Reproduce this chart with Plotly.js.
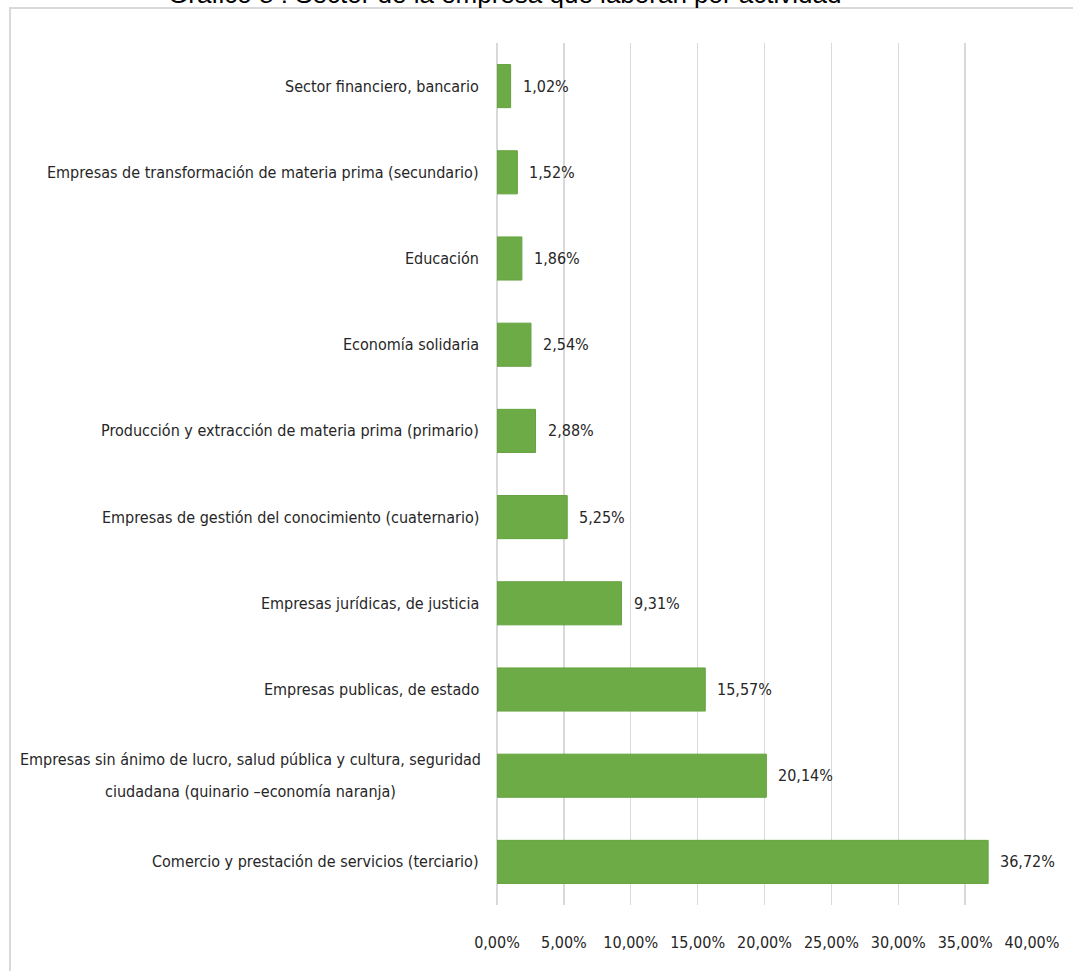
<!DOCTYPE html>
<html>
<head>
<meta charset="utf-8">
<script src="https://cdn.plot.ly/plotly-3.0.1.min.js"></script>
<style>
  html, body { margin: 0; padding: 0; background: #ffffff; }
  #chart { width: 1073px; height: 971px; }
</style>
</head>
<body>
<div id="chart"></div>
<script>
// ---- data ----
const categories = [
  "Sector financiero, bancario",
  "Empresas de transformación de materia prima (secundario)",
  "Educación",
  "Economía solidaria",
  "Producción y extracción de materia prima (primario)",
  "Empresas de gestión del conocimiento (cuaternario)",
  "Empresas jurídicas, de justicia",
  "Empresas publicas, de estado",
  "Empresas sin ánimo de lucro, salud pública y cultura, seguridad<br>ciudadana (quinario –economía naranja)",
  "Comercio y prestación de servicios (terciario)"
];
const values = [1.02, 1.52, 1.86, 2.54, 2.88, 5.25, 9.31, 15.57, 20.14, 36.72];
const tickValues = [0, 5, 10, 15, 20, 25, 30, 35, 40];
const tickLabels = ["0,00%", "5,00%", "10,00%", "15,00%", "20,00%", "25,00%", "30,00%", "35,00%", "40,00%"];
const titleText = "Gráfico 8 : Sector de la empresa que laboran por actividad";

// ---- styling ----
const FONT = '"DejaVu Sans Condensed", "Liberation Sans", sans-serif';
const TXT = '#262626';
const FS = 16;
const LINE_GAP = 32;
const fmt = v => v.toFixed(2).replace('.', ',') + '%';

const canvas = document.createElement('canvas');
const ctx = canvas.getContext('2d');
ctx.font = FS + 'px ' + FONT;
const textWidth = s => ctx.measureText(s).width;

const trace = {
  type: 'bar',
  orientation: 'h',
  x: values,
  y: categories,
  marker: { color: '#6cab45', line: { color: '#64a23e', width: 1 } },
  width: 0.5,
  hoverinfo: 'x+y'
};

const px2x = px => (px - 497) / 535;
const px2y = py => (905 - py) / 862;
const LABEL_RIGHT = 481;

const annotations = [];
categories.forEach((c, i) => {
  const lines = c.split('<br>');
  if (lines.length === 1) {
    annotations.push({
      xref: 'paper', yref: 'y', x: 0, y: c, xanchor: 'right', yanchor: 'middle',
      xshift: LABEL_RIGHT - 497, text: c, showarrow: false,
      font: { family: FONT, size: FS, color: TXT }
    });
  } else {
    const maxW = Math.max(...lines.map(textWidth));
    const centerPx = LABEL_RIGHT - maxW / 2;
    lines.forEach((ln, j) => {
      annotations.push({
        xref: 'paper', yref: 'y', x: px2x(centerPx), y: c, xanchor: 'center', yanchor: 'middle',
        yshift: ((lines.length - 1) / 2 - j) * LINE_GAP, text: ln, showarrow: false,
        font: { family: FONT, size: FS, color: TXT }
      });
    });
  }
  annotations.push({
    xref: 'x', yref: 'y', x: values[i], y: c, xanchor: 'left', yanchor: 'middle',
    xshift: 10, text: fmt(values[i]), showarrow: false,
    font: { family: FONT, size: FS, color: TXT }
  });
});
annotations.push({
  xref: 'paper', yref: 'paper', x: px2x(505), y: px2y(11),
  xanchor: 'center', yanchor: 'bottom', text: titleText, showarrow: false,
  font: { family: '"Liberation Sans", Arial, sans-serif', size: 26, color: '#000000' }
});

const frame = { color: '#d9d9d9', width: 2 };

const layout = {
  width: 1073, height: 971,
  margin: { l: 497, r: 41, t: 43, b: 66, pad: 0 },
  paper_bgcolor: '#ffffff', plot_bgcolor: '#ffffff',
  showlegend: false,
  xaxis: {
    range: [0, 40], tickvals: tickValues, ticktext: tickLabels, tickangle: 0,
    showgrid: true, gridcolor: '#d9d9d9', gridwidth: 1.3,
    zeroline: true, zerolinecolor: '#d9d9d9', zerolinewidth: 1.3,
    showline: false, ticks: '', ticklabelstandoff: 26,
    tickfont: { family: FONT, size: FS, color: TXT }, fixedrange: true
  },
  yaxis: {
    autorange: 'reversed', showticklabels: false, showgrid: false,
    zeroline: false, showline: false, ticks: '', fixedrange: true
  },
  annotations: annotations,
  shapes: [
    { type: 'line', xref: 'paper', yref: 'paper', x0: px2x(10), x1: px2x(10), y0: px2y(980), y1: px2y(8), line: frame, layer: 'below' },
    { type: 'line', xref: 'paper', yref: 'paper', x0: px2x(9), x1: px2x(1090), y0: px2y(8), y1: px2y(8), line: frame, layer: 'below' }
  ]
};

Plotly.newPlot('chart', [trace], layout, { displayModeBar: false, staticPlot: true });
</script>
</body>
</html>
